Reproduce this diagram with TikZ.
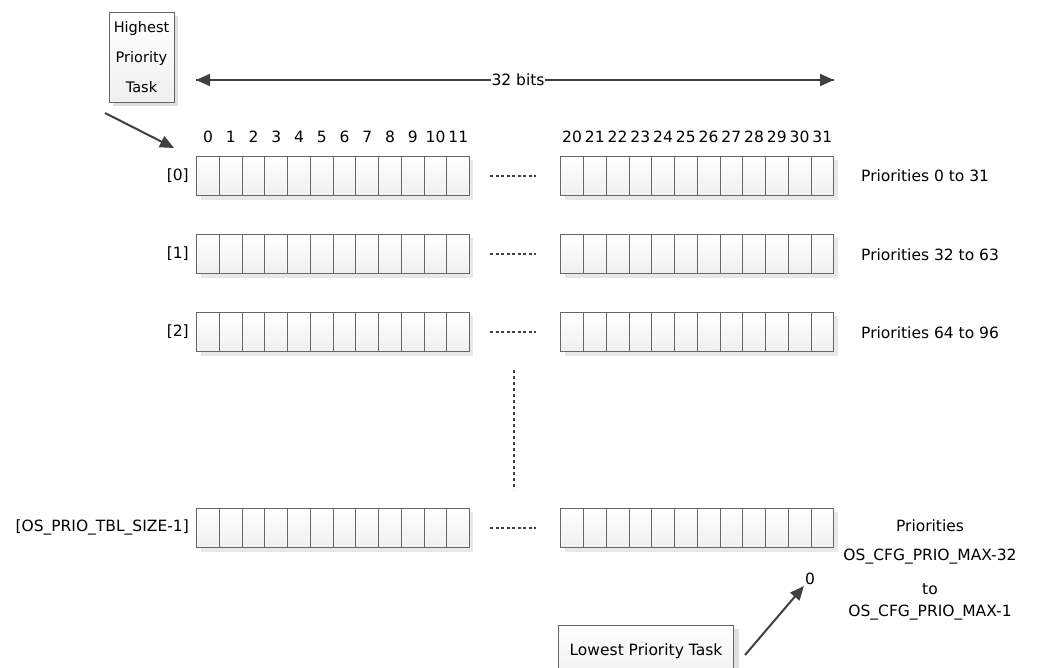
\documentclass[tikz,border=0pt]{standalone}
\usepackage{fontspec}
\setmainfont{DejaVu Sans}
\usetikzlibrary{arrows.meta}
\definecolor{ink}{HTML}{404040}
\tikzset{
  bitcell/.style={draw=ink!80, line width=0.9pt, top color=white, bottom color=gray!12,
    minimum width=22.75pt, minimum height=39pt, inner sep=0pt, outer sep=0pt},
  cellshadow/.style={fill=gray!18, draw=none},
  lbl/.style={font=\fontsize{15.5}{18}\selectfont, inner sep=1pt},
  taskbox/.style={draw=ink!80, line width=0.9pt, top color=white, bottom color=gray!12, inner sep=3pt},
  bigarrow/.style={draw=ink, line width=2pt, -{Triangle[length=14pt, width=12pt]}},
  gap/.style={draw=ink, line width=1.2pt, dash pattern=on 3pt off 2.5pt},
}
\begin{document}
\begin{tikzpicture}[x=1pt, y=-1pt]
\useasboundingbox (0,0) rectangle (1043,668);

% the four rows of the table, each split in two groups of twelve bits
\foreach \r/\ytop in {0/156, 1/234, 2/312, 3/508} {
  \foreach \g/\xl in {L/196.5, R/560.7} {
    \fill[cellshadow] (\xl+4,\ytop+4) rectangle (\xl+272.9+4,\ytop+39+5);
    \foreach \i in {0,...,11} {
      \node[bitcell] (c\r\g\i) at (\xl+11.375+\i*22.75, \ytop+19.5) {};
    }
  }
  \draw[gap] (490,\ytop+20) -- (536,\ytop+20);
}

% row indices
\node[lbl, anchor=east] (i0) at (190,175.5) {[0]};
\node[lbl, anchor=east] (i1) at (190,253.5) {[1]};
\node[lbl, anchor=east] (i2) at (190,331.5) {[2]};
\node[lbl, anchor=east] (i3) at (190,527.5) {[OS\_PRIO\_TBL\_SIZE-1]};

% bit numbers over the first row
\foreach \i in {0,...,11} {
  \node[lbl] (bl\i) at (208+\i*22.75,137) {\i};
}
\foreach \i [evaluate=\i as \n using int(\i+20)] in {0,...,11} {
  \node[lbl] (br\i) at (572+\i*22.75,137) {\n};
}

% priority ranges
\node[lbl, anchor=west] (p0) at (860,176) {Priorities 0 to 31};
\node[lbl, anchor=west] (p1) at (860,255) {Priorities 32 to 63};
\node[lbl, anchor=west] (p2) at (860,333) {Priorities 64 to 96};
\node[lbl] (p3a) at (930,526) {Priorities};
\node[lbl] (p3b) at (930,557) {OS\_CFG\_PRIO\_MAX-32};
\node[lbl] (p3c) at (930,589) {to};
\node[lbl] (p3d) at (930,613) {OS\_CFG\_PRIO\_MAX-1};

% elided rows
\coordinate (vt) at (514,370);
\coordinate (vb) at (514,490);
\draw[draw=ink, line width=1.8pt, dash pattern=on 3pt off 3pt] (vt) -- (vb);

% word width
\coordinate (wl) at (196,80);
\coordinate (wr) at (834,80);
\draw[bigarrow] (wr) -- (wl);
\draw[bigarrow] (wl) -- (wr);
\node[lbl, fill=white, inner sep=1pt] (wlab) at (518,80) {32 bits};

% highest priority task
\fill[gray!25] (113,16) rectangle (178,106);
\node[taskbox, minimum width=65pt, minimum height=90pt, align=center,
  font=\fontsize{14.5}{30}\selectfont] (hi) at (141.5,57) {Highest\\Priority\\Task};
\coordinate (hs) at (105,113);
\coordinate (ht) at (174,148);
\draw[bigarrow] (hs) -- (ht);

% lowest priority task
\fill[gray!25] (562,629) rectangle (739,672);
\node[taskbox, minimum width=175pt, minimum height=52pt, anchor=north west,
  font=\fontsize{15.5}{18}\selectfont] (lo) at (558,625) {Lowest Priority Task};
\node[lbl] (z) at (810,579) {0};
\draw[bigarrow] (745,655) -- (z.south west);
\end{tikzpicture}
\end{document}
